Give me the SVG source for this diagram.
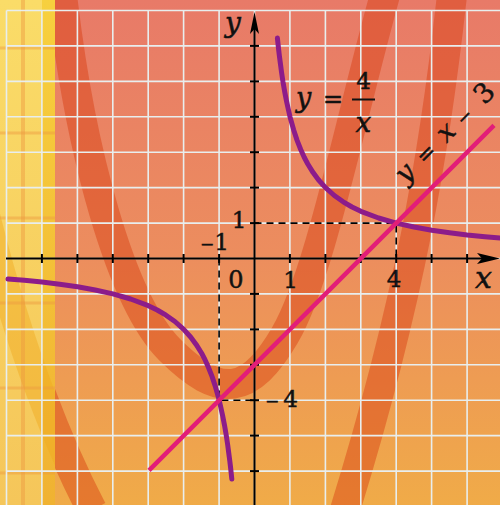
<svg xmlns="http://www.w3.org/2000/svg" width="500" height="505" viewBox="0 0 500 505">
<defs>
  <linearGradient id="bg" x1="0" y1="0" x2="0" y2="1">
    <stop offset="0" stop-color="#E87A68"/>
    <stop offset="0.5" stop-color="#EC8D5E"/>
    <stop offset="1" stop-color="#F0AB48"/>
  </linearGradient>
  <linearGradient id="stripLight" x1="0" y1="0" x2="0" y2="1">
    <stop offset="0" stop-color="#FADC68"/>
    <stop offset="1" stop-color="#F5C65A"/>
  </linearGradient>
  <linearGradient id="stripSat" x1="0" y1="0" x2="0" y2="1">
    <stop offset="0" stop-color="#F7D03E"/>
    <stop offset="1" stop-color="#F0B232"/>
  </linearGradient>
  <clipPath id="stripClip"><rect x="0" y="0" width="55" height="505"/></clipPath>
  <clipPath id="mainClip"><rect x="55" y="0" width="445" height="505"/></clipPath>
  <style>
    .band { fill: none; stroke: #D83C10; stroke-opacity: 0.45; stroke-width: 30; }
    .grid line { stroke: #E8EEEE; stroke-width: 1.6; }
    .axis { stroke: #000; stroke-width: 2; fill: none; }
    .tick { stroke: #000; stroke-width: 2; }
    .dash { stroke: #000; stroke-width: 1.6; stroke-dasharray: 7 5; fill: none; }
    .hyp { fill: none; stroke: #8C1C8A; stroke-width: 5; stroke-linecap: round; stroke-linejoin: round; }
    .lin { fill: none; stroke: #E21E78; stroke-width: 4.5; }
    text { font-family: "DejaVu Serif", "Liberation Serif", serif; fill: #111; stroke: #111; stroke-width: 0.5; }
    .it { font-style: italic; }
    .mn { font-size: 17px; }
  </style>
</defs>

<g id="background">
  <rect x="0" y="0" width="500" height="505" fill="url(#bg)"/>
  <g clip-path="url(#mainClip)">
    <path class="band" d="M62,-5 C80,150 120,300 170,350 S250,395 285,335 S350,120 385,-5"/>
    <path class="band" d="M452,-5 C435,150 410,300 345,510"/>
    <path class="band" d="M-25,170 C5,300 45,420 92,510"/>
  </g>
  <rect x="0" y="0" width="55" height="505" fill="url(#stripLight)"/>
  <rect x="42" y="0" width="13" height="505" fill="url(#stripSat)"/>
  <g clip-path="url(#stripClip)">
    <path d="M-25,170 C5,300 45,420 92,510" fill="none" stroke="#EFA820" stroke-opacity="0.45" stroke-width="28"/>
    <rect x="21" y="0" width="4" height="505" fill="#EE9A40" opacity="0.45"/>
    <g fill="#EE9A40" opacity="0.45">
      <rect x="0" y="46.5" width="55" height="3"/>
      <rect x="0" y="131.5" width="55" height="3"/>
      <rect x="0" y="216.5" width="55" height="3"/>
      <rect x="0" y="301.5" width="55" height="3"/>
      <rect x="0" y="386.5" width="55" height="3"/>
      <rect x="0" y="471.5" width="55" height="3"/>
    </g>
  </g>
</g>

<g id="grid" class="grid">
  <line x1="6.5" y1="10.5" x2="6.5" y2="505"/>
  <line x1="41.9" y1="10.5" x2="41.9" y2="505"/>
  <line x1="77.4" y1="10.5" x2="77.4" y2="505"/>
  <line x1="112.8" y1="10.5" x2="112.8" y2="505"/>
  <line x1="148.2" y1="10.5" x2="148.2" y2="505"/>
  <line x1="183.6" y1="10.5" x2="183.6" y2="505"/>
  <line x1="219.1" y1="10.5" x2="219.1" y2="505"/>
  <line x1="254.5" y1="10.5" x2="254.5" y2="505"/>
  <line x1="289.9" y1="10.5" x2="289.9" y2="505"/>
  <line x1="325.4" y1="10.5" x2="325.4" y2="505"/>
  <line x1="360.8" y1="10.5" x2="360.8" y2="505"/>
  <line x1="396.2" y1="10.5" x2="396.2" y2="505"/>
  <line x1="431.6" y1="10.5" x2="431.6" y2="505"/>
  <line x1="467.1" y1="10.5" x2="467.1" y2="505"/>
  <line x1="6.5" y1="10.5" x2="500" y2="10.5"/>
  <line x1="6.5" y1="45.9" x2="500" y2="45.9"/>
  <line x1="6.5" y1="81.4" x2="500" y2="81.4"/>
  <line x1="6.5" y1="116.8" x2="500" y2="116.8"/>
  <line x1="6.5" y1="152.2" x2="500" y2="152.2"/>
  <line x1="6.5" y1="187.6" x2="500" y2="187.6"/>
  <line x1="6.5" y1="223.1" x2="500" y2="223.1"/>
  <line x1="6.5" y1="258.5" x2="500" y2="258.5"/>
  <line x1="6.5" y1="293.9" x2="500" y2="293.9"/>
  <line x1="6.5" y1="329.4" x2="500" y2="329.4"/>
  <line x1="6.5" y1="364.8" x2="500" y2="364.8"/>
  <line x1="6.5" y1="400.2" x2="500" y2="400.2"/>
  <line x1="6.5" y1="435.6" x2="500" y2="435.6"/>
  <line x1="6.5" y1="471.1" x2="500" y2="471.1"/>
</g>

<g id="guides">
  <path class="dash" d="M254.5,223.1 H396.2 V258.5"/>
  <path class="dash" d="M219.1,258.5 V400.2 H254.5"/>
</g>

<g id="axes">
  <line class="axis" x1="6" y1="258.5" x2="490" y2="258.5"/>
  <path d="M500,258.5 L477,253 L482,258.5 L477,264 Z" fill="#000"/>
  <line class="axis" x1="254.5" y1="505" x2="254.5" y2="22"/>
  <path d="M254.5,12 L250,34 L254.5,29 L259,34 Z" fill="#000"/>
  <g class="tick">
    <line x1="41.9" y1="254" x2="41.9" y2="263"/>
    <line x1="77.4" y1="254" x2="77.4" y2="263"/>
    <line x1="112.8" y1="254" x2="112.8" y2="263"/>
    <line x1="148.2" y1="254" x2="148.2" y2="263"/>
    <line x1="183.6" y1="254" x2="183.6" y2="263"/>
    <line x1="219.1" y1="254" x2="219.1" y2="263"/>
    <line x1="289.9" y1="254" x2="289.9" y2="263"/>
    <line x1="325.4" y1="254" x2="325.4" y2="263"/>
    <line x1="360.8" y1="254" x2="360.8" y2="263"/>
    <line x1="396.2" y1="254" x2="396.2" y2="263"/>
    <line x1="431.6" y1="254" x2="431.6" y2="263"/>
    <line x1="467.1" y1="254" x2="467.1" y2="263"/>
    <line x1="250" y1="45.9" x2="259" y2="45.9"/>
    <line x1="250" y1="81.4" x2="259" y2="81.4"/>
    <line x1="250" y1="116.8" x2="259" y2="116.8"/>
    <line x1="250" y1="152.2" x2="259" y2="152.2"/>
    <line x1="250" y1="187.6" x2="259" y2="187.6"/>
    <line x1="250" y1="223.1" x2="259" y2="223.1"/>
    <line x1="250" y1="293.9" x2="259" y2="293.9"/>
    <line x1="250" y1="329.4" x2="259" y2="329.4"/>
    <line x1="250" y1="364.8" x2="259" y2="364.8"/>
    <line x1="250" y1="400.2" x2="259" y2="400.2"/>
    <line x1="250" y1="435.6" x2="259" y2="435.6"/>
    <line x1="250" y1="471.1" x2="259" y2="471.1"/>
  </g>
</g>

<g id="curves">
  <path id="hyperbola-right" class="hyp" d="M277.4,38.1 L278.0,43.8 L278.7,50.1 L279.4,56.0 L280.5,64.4 L281.5,72.0 L282.9,81.4 L284.7,91.8 L286.5,101.0 L288.3,109.3 L290.0,116.8 L293.6,129.7 L297.1,140.4 L300.7,149.5 L304.2,157.3 L307.8,164.0 L313.1,172.6 L318.4,179.8 L325.5,187.6 L334.3,195.5 L343.2,201.8 L352.0,207.0 L360.9,211.3 L378.6,218.0 L396.3,223.1 L414.0,227.0 L431.8,230.2 L449.5,232.7 L467.2,234.9 L484.9,236.7 L502,238.3"/>
  <path id="hyperbola-left" class="hyp" d="M8.0,278.9 L24.3,280.3 L42.0,282.1 L59.7,284.3 L77.5,286.8 L95.2,290.0 L112.9,293.9 L130.6,299.0 L148.3,305.7 L157.2,310.0 L166.0,315.2 L174.9,321.5 L183.7,329.4 L190.8,337.2 L196.1,344.4 L201.5,353.0 L205.0,359.7 L208.5,367.5 L212.1,376.6 L215.6,387.3 L219.2,400.2 L220.9,407.7 L222.7,416.0 L224.5,425.2 L226.3,435.7 L227.7,445.0 L228.7,452.6 L229.8,461.0 L230.5,466.9 L231.2,473.2 L231.8,478.9"/>
  <path id="line" class="lin" d="M149,470.4 L494,125.4"/>
</g>

<g id="labels">
  <text class="it" x="225" y="32" font-size="28">y</text>
  <text class="it" x="475" y="287.5" font-size="30">x</text>
  <text x="236" y="288.3" font-size="24" text-anchor="middle">0</text>
  <text x="290.5" y="288" font-size="23" text-anchor="middle">1</text>
  <text x="394" y="287" font-size="23" text-anchor="middle">4</text>
  <text x="239" y="228" font-size="23" text-anchor="middle">1</text>
  <text x="229" y="250" font-size="23" text-anchor="end"><tspan class="mn">−</tspan>1</text>
  <text x="265" y="407" font-size="23"><tspan class="mn">−</tspan><tspan dx="4">4</tspan></text>
</g>

<g id="formula-hyperbola">
  <text font-size="27" y="107"><tspan class="it" x="296">y</tspan> <tspan x="323" font-size="24">=</tspan></text>
  <text x="363.5" y="89" font-size="23" text-anchor="middle">4</text>
  <line x1="352" y1="99.5" x2="375" y2="99.5" stroke="#111" stroke-width="2"/>
  <text class="it" x="363.5" y="132" font-size="28" text-anchor="middle">x</text>
</g>

<g id="formula-line" transform="translate(452,138) rotate(-45)">
  <text font-size="27" text-anchor="middle"><tspan class="it" x="-54" y="0">y</tspan> <tspan x="-25" y="0" font-size="22">=</tspan> <tspan class="it" x="4" y="0">x</tspan> <tspan x="28" y="0" font-size="18">−</tspan> <tspan x="54.5" y="0">3</tspan></text>
</g>
</svg>
